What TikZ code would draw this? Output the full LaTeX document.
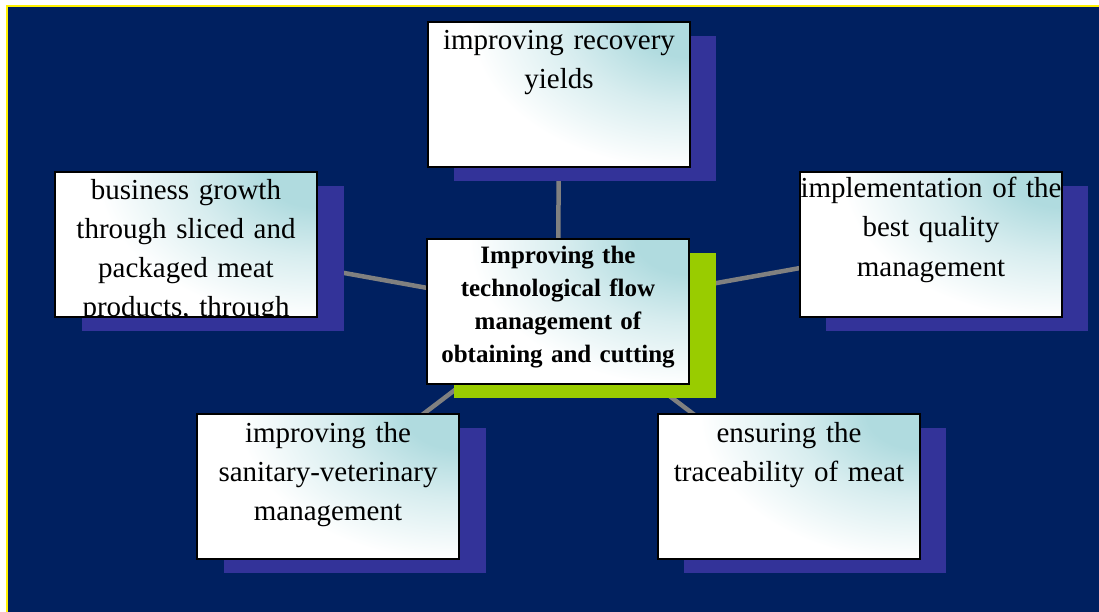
\documentclass[tikz,border=0pt]{standalone}
\usepackage{fontspec}
\setmainfont{Liberation Serif}
\usetikzlibrary{positioning,calc}

\definecolor{navybg}{RGB}{0,32,96}
\definecolor{shadowblue}{RGB}{51,51,153}
\definecolor{shadowgreen}{RGB}{153,204,0}
\definecolor{boxcyan}{RGB}{176,219,223}
\definecolor{linkgray}{RGB}{128,128,128}

\pgfdeclareradialshading{cornerglow}{\pgfpoint{0bp}{0bp}}{color(0bp)=(boxcyan); color(5bp)=(boxcyan); color(12bp)=(boxcyan!50!white); color(21bp)=(white); color(50bp)=(white)}

\pgfdeclarelayer{backdrop}
\pgfdeclarelayer{links}
\pgfsetlayers{backdrop,links,main}

\tikzset{
	ideabox/.style={draw=black, line width=1.8pt, minimum width=262pt, minimum height=145pt,
		inner sep=0pt, outer sep=0pt, fill=white,
		path picture={\shade[shading=cornerglow]
			(path picture bounding box.north east) ellipse [x radius=260pt, y radius=175pt];}},
	shadowbox/.style={fill=shadowblue, minimum width=262pt, minimum height=145pt, inner sep=0pt},
	greenbox/.style={shadowbox, fill=shadowgreen},
	boxtext/.style={font=\fontsize{29}{39}\selectfont, align=center, text width=280pt, inner sep=0pt},
	centertext/.style={font=\fontsize{25}{33}\selectfont\bfseries, align=center, text width=270pt, inner sep=0pt},
	link/.style={draw=linkgray, line width=4.5pt}
}

\begin{document}
\begin{tikzpicture}[x=1pt,y=-1pt]
	\useasboundingbox (0,0) rectangle (1099,612);
	\begin{pgfonlayer}{backdrop}
		\fill[white] (0,0) rectangle (1099,612);
		\draw[yellow, line width=2.5pt, fill=navybg] (7,6) rectangle (1120,630);
	\end{pgfonlayer}

	% shadows
	\node[shadowbox] (tshadow) at (585,108.5) {};
	\node[shadowbox] (lshadow) at (213,258.5) {};
	\node[shadowbox] (rshadow) at (957,258.5) {};
	\node[greenbox]  (cshadow) at (585,325.5) {};
	\node[shadowbox] (blshadow) at (355,500.5) {};
	\node[shadowbox] (brshadow) at (815,500.5) {};

	% boxes
	\node[ideabox] (tbox) at (559,94.5) {};
	\node[ideabox] (lbox) at (186,244.5) {};
	\node[ideabox] (rbox) at (931,244.5) {};
	\node[ideabox] (cbox) at (558,311.5) {};
	\node[ideabox] (blbox) at (328,486.5) {};
	\node[ideabox] (brbox) at (789,486.5) {};

	% texts
	\node[boxtext, anchor=base] (ttext) at ($(tbox.north)+(0,28)$) {improving recovery\\yields};
	\node[boxtext, anchor=base] (rtext) at ($(rbox.north)+(0,26)$) {implementation of the\\best quality\\management};
	\node[centertext, anchor=base] (ctext) at ($(cbox.north)+(0,24)$) {Improving the\\technological flow\\management of\\obtaining and cutting};
	\node[boxtext, anchor=base] (bltext) at ($(blbox.north)+(0,28)$) {improving the\\sanitary-veterinary\\management};
	\node[boxtext, anchor=base] (brtext) at ($(brbox.north)+(0,28)$) {ensuring the\\traceability of meat};
	\begin{scope}
		\clip ($(lbox.north west)+(1,1)$) rectangle ($(lbox.south east)+(-1,-1)$);
		\node[boxtext, anchor=base] (ltext) at ($(lbox.north)+(0,28)$) {business growth\\through sliced and\\packaged meat\\products, through};
	\end{scope}
	\draw[black, line width=1.8pt] (lbox.north west) rectangle (lbox.south east);

	% connectors
	\begin{pgfonlayer}{links}
		\draw[link] (cbox.center) -- (tbox.center);
		\draw[link] (cbox.center) -- (lbox.center);
		\draw[link] (cbox.center) -- (rbox.center);
		\draw[link] (cbox.center) -- (blbox.center);
		\draw[link] (cbox.center) -- (brbox.center);
	\end{pgfonlayer}
\end{tikzpicture}
\end{document}
